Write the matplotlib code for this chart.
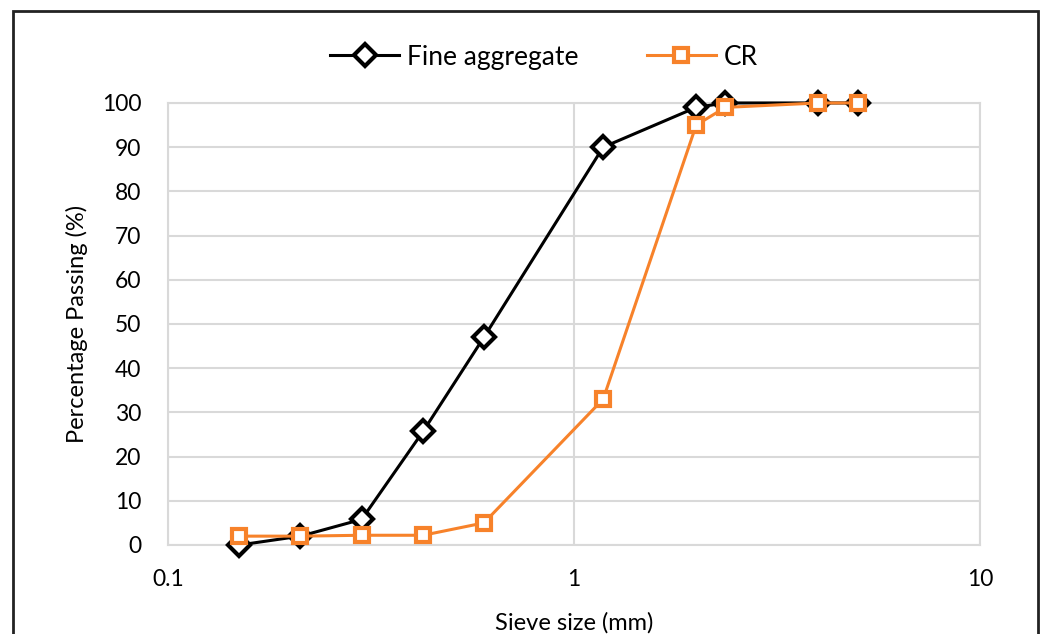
import matplotlib
matplotlib.use('Agg')
import matplotlib.pyplot as plt
from matplotlib.patches import Rectangle

plt.rcParams['font.family'] = ['Lato', 'DejaVu Sans']

# sieve sizes (mm) and percentage passing
sieve_mm = [0.15, 0.212, 0.3, 0.425, 0.6, 1.18, 2.0, 2.36, 4.0, 5.0]
fine_agg = [0, 2, 5.8, 25.7, 47, 90, 99, 100, 100, 100]
cr = [2, 2, 2.2, 2.2, 5, 33, 95, 99, 100, 100]

x_ticks = [0.1, 1, 10]
x_labels = ['0.1', '1', '10']
y_ticks = list(range(0, 101, 10))

orange = '#F7822A'
grid_col = '#D9D9D9'

fig = plt.figure(figsize=(10.42, 6.34), dpi=100)
ax = fig.add_axes([0.1612, 0.1404, 0.7793, 0.6972])

ax.plot(sieve_mm, fine_agg, color='black', lw=2.2, marker='D', ms=11.5,
        mfc='white', mec='black', mew=3, label='Fine aggregate', zorder=3,
        clip_on=False)
ax.plot(sieve_mm, cr, color=orange, lw=2.2, marker='s', ms=10,
        mfc='white', mec=orange, mew=3, label='CR', zorder=4, clip_on=False)

ax.set_xscale('log')
ax.set_xlim(0.1, 10)
ax.set_ylim(0, 100)
ax.set_xticks(x_ticks)
ax.set_xticklabels(x_labels)
ax.xaxis.set_minor_locator(matplotlib.ticker.NullLocator())
ax.set_yticks(y_ticks)
ax.tick_params(length=0, labelsize=16.5)
ax.tick_params(axis='y', pad=19)
ax.tick_params(axis='x', pad=17)
ax.grid(True, color=grid_col, lw=1.5)
ax.set_axisbelow(True)
for s in ax.spines.values():
    s.set_color(grid_col)
    s.set_linewidth(1.5)

ax.set_xlabel('Sieve size (mm)', fontsize=17, labelpad=16)
ax.set_ylabel('Percentage Passing (%)', fontsize=17, labelpad=10)

ax.legend(loc='center', bbox_to_anchor=(0.522, 0.91), bbox_transform=fig.transFigure,
          ncol=2, frameon=False, fontsize=19, handlelength=2.6, handletextpad=0.3,
          columnspacing=2.6, borderaxespad=0)

# outer frame
fig.patches.append(Rectangle((13 / 1042, -0.05), 1025 / 1042, 1.05 - 11 / 634,
                             transform=fig.transFigure, fill=False,
                             edgecolor='#222222', lw=2))

fig.savefig('out.png', dpi=100)
